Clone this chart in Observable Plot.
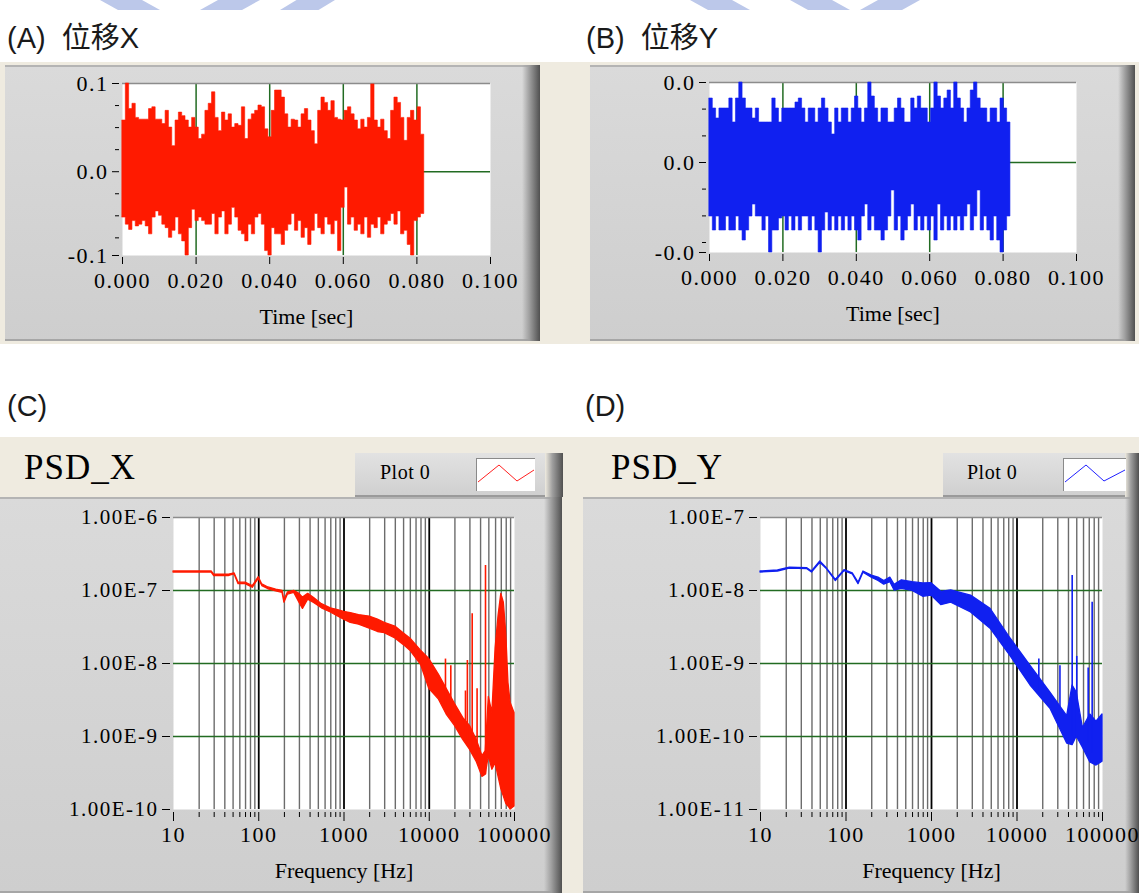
<!DOCTYPE html>
<html><head><meta charset="utf-8">
<script src="https://cdn.jsdelivr.net/npm/d3@7"></script>
<script src="https://cdn.jsdelivr.net/npm/@observablehq/plot@0.6"></script>
<style>
body{margin:0;background:#fff;}
#page{position:relative;width:1139px;height:893px;overflow:hidden;background:#fff;font-family:"Liberation Sans","Noto Sans CJK TC",sans-serif;}
.abs{position:absolute;}
.beige{background:#efebe0;}
.panel{background:linear-gradient(180deg,#dadada 0%,#cecece 100%);box-shadow:inset 0 2px 0 #b4b4b4,inset 0 -2px 0 #a6a6a6;}
.bevel{background:linear-gradient(90deg,rgba(160,160,160,0) 0%,#a0a0a0 40%,#505050 100%);}
.ttl{font-size:29px;color:#1a1a1a;white-space:pre;line-height:34px;}
.psdt{font-family:"Liberation Serif",serif;font-size:35px;color:#000;line-height:38px;letter-spacing:1px;}
.leg{background:linear-gradient(180deg,#e2e2e2,#cfcfcf);box-shadow:inset 0 -2px 0 #9a9a9a;}
.legt{font-family:"Liberation Serif",serif;font-size:20px;color:#000;line-height:22px;letter-spacing:0.5px;}
.sw{background:#fff;border-top:1px solid #8a8a8a;border-left:1px solid #8a8a8a;}
.deco{background:#bcc8ea;}
svg.plot{position:absolute;}
svg.plot g[aria-label$="tick label"]{letter-spacing:1.5px;}
</style>
</head><body>
<div id="page">
  <div class="abs deco" style="left:100px;top:0;width:60px;height:10px;clip-path:polygon(0 0,70% 0,100% 100%,30% 100%)"></div>
  <div class="abs deco" style="left:200px;top:0;width:60px;height:10px;clip-path:polygon(30% 0,100% 0,70% 100%,0 100%)"></div>
  <div class="abs deco" style="left:280px;top:0;width:55px;height:10px;clip-path:polygon(30% 0,100% 0,70% 100%,0 100%)"></div>
  <div class="abs deco" style="left:690px;top:0;width:60px;height:10px;clip-path:polygon(0 0,70% 0,100% 100%,30% 100%)"></div>
  <div class="abs deco" style="left:790px;top:0;width:60px;height:10px;clip-path:polygon(0 0,70% 0,100% 100%,30% 100%)"></div>
  <div class="abs deco" style="left:860px;top:0;width:60px;height:10px;clip-path:polygon(30% 0,100% 0,70% 100%,0 100%)"></div>

  <div class="abs ttl" style="left:7px;top:21px;">(A)  位移X</div>
  <div class="abs ttl" style="left:586px;top:21px;">(B)  位移Y</div>
  <div class="abs ttl" style="left:7px;top:389px;">(C)</div>
  <div class="abs ttl" style="left:585px;top:389px;">(D)</div>

  <div class="abs beige" style="left:0;top:62px;width:1139px;height:282px;"></div>
  <div class="abs panel" style="left:5px;top:65px;width:535px;height:276px;"></div>
  <div class="abs bevel" style="left:522px;top:65px;width:18px;height:276px;"></div>
  <div class="abs panel" style="left:590px;top:65px;width:545px;height:276px;"></div>
  <div class="abs bevel" style="left:1118px;top:65px;width:17px;height:276px;"></div>

  <div class="abs beige" style="left:0;top:437px;width:1139px;height:456px;"></div>
  <div class="abs panel" style="left:0;top:497px;width:562px;height:396px;"></div>
  <div class="abs bevel" style="left:544px;top:497px;width:18px;height:396px;"></div>
  <div class="abs panel" style="left:583px;top:497px;width:556px;height:396px;"></div>
  <div class="abs bevel" style="left:1125px;top:497px;width:14px;height:396px;"></div>

  <div class="abs psdt" style="left:24px;top:449px;">PSD_X</div>
  <div class="abs psdt" style="left:611px;top:449px;">PSD_Y</div>

  <div class="abs leg" style="left:355px;top:453px;width:190px;height:44px;"></div>
  <div class="abs bevel" style="left:545px;top:453px;width:18px;height:44px;"></div>
  <div class="abs legt" style="left:380px;top:461px;">Plot 0</div>
  <div class="abs sw" style="left:476px;top:458px;width:58px;height:32px;">
    <svg width="58" height="32"><polyline points="1,23 22,6 40,22 57,11" fill="none" stroke="#ff2020" stroke-width="1"/></svg>
  </div>

  <div class="abs leg" style="left:943px;top:453px;width:182px;height:44px;"></div>
  <div class="abs bevel" style="left:1125px;top:453px;width:14px;height:44px;"></div>
  <div class="abs legt" style="left:967px;top:461px;">Plot 0</div>
  <div class="abs sw" style="left:1063px;top:458px;width:62px;height:32px;">
    <svg width="62" height="32"><polyline points="1,23 22,6 40,22 61,11" fill="none" stroke="#2020ff" stroke-width="1"/></svg>
  </div>

  <div id="A"></div><div id="B"></div><div id="C"></div><div id="D"></div>
</div>
<script>
// ---------- data ----------
const timeEnd = 0.082;
const timeTicks = [0, 0.02, 0.04, 0.06, 0.08, 0.1];
const timeGrid = [0.02, 0.04, 0.06, 0.08];

const hiA = [0.058,0.100,0.071,0.077,0.061,0.059,0.059,0.059,0.071,0.073,
0.059,0.059,0.054,0.069,0.050,0.029,0.058,0.067,0.063,0.058,
0.050,0.061,0.050,0.037,0.042,0.069,0.077,0.090,0.061,0.046,
0.067,0.058,0.065,0.050,0.054,0.052,0.073,0.037,0.059,0.065,
0.069,0.075,0.073,0.048,0.039,0.069,0.092,0.092,0.084,0.065,
0.050,0.059,0.058,0.050,0.065,0.071,0.058,0.046,0.031,0.069,
0.084,0.078,0.069,0.080,0.061,0.059,0.058,0.069,0.073,0.065,
0.058,0.048,0.059,0.050,0.061,0.099,0.058,0.050,0.059,0.046,
0.037,0.069,0.084,0.078,0.061,0.035,0.061,0.069,0.058,0.073,0.042];
const loA = [-0.052,-0.060,-0.066,-0.056,-0.062,-0.060,-0.056,-0.062,-0.071,-0.052,
-0.045,-0.050,-0.060,-0.064,-0.075,-0.067,-0.052,-0.071,-0.079,-0.095,
-0.064,-0.043,-0.056,-0.052,-0.056,-0.060,-0.060,-0.048,-0.071,-0.052,
-0.045,-0.071,-0.060,-0.041,-0.052,-0.067,-0.071,-0.079,-0.060,-0.071,
-0.052,-0.048,-0.060,-0.090,-0.095,-0.064,-0.071,-0.071,-0.083,-0.067,
-0.060,-0.048,-0.067,-0.056,-0.075,-0.064,-0.083,-0.067,-0.048,-0.064,
-0.071,-0.052,-0.060,-0.071,-0.056,-0.090,-0.041,-0.018,-0.060,-0.052,
-0.067,-0.060,-0.071,-0.052,-0.075,-0.060,-0.064,-0.052,-0.071,-0.060,
-0.056,-0.048,-0.060,-0.045,-0.071,-0.067,-0.083,-0.095,-0.056,-0.052,-0.048];
const yTicksA = [-0.095, 0, 0.1];
const yLabelsA = ["-0.1", "0.0", "0.1"];
const yMinorA = [-0.075, -0.05, -0.025, 0.025, 0.05, 0.075];

const hiB = [0.032,0.027,0.022,0.027,0.027,0.027,0.032,0.020,0.032,0.040,
0.032,0.027,0.027,0.022,0.027,0.020,0.020,0.020,0.020,0.032,
0.027,0.020,0.027,0.027,0.027,0.027,0.030,0.032,0.027,0.020,
0.027,0.027,0.020,0.027,0.032,0.027,0.020,0.014,0.027,0.020,
0.027,0.027,0.020,0.027,0.033,0.027,0.020,0.027,0.040,0.033,
0.027,0.020,0.027,0.027,0.020,0.020,0.027,0.032,0.027,0.020,
0.020,0.032,0.027,0.033,0.027,0.027,0.020,0.027,0.040,0.033,
0.027,0.032,0.036,0.027,0.040,0.032,0.027,0.020,0.027,0.036,
0.040,0.032,0.027,0.027,0.020,0.027,0.027,0.020,0.032,0.027,0.020];
const loB = [-0.027,-0.034,-0.027,-0.034,-0.034,-0.027,-0.034,-0.034,-0.027,-0.034,
-0.039,-0.034,-0.027,-0.021,-0.027,-0.027,-0.034,-0.027,-0.045,-0.034,
-0.034,-0.028,-0.027,-0.034,-0.027,-0.034,-0.027,-0.034,-0.027,-0.027,
-0.034,-0.027,-0.034,-0.045,-0.034,-0.025,-0.034,-0.027,-0.034,-0.027,
-0.034,-0.027,-0.034,-0.027,-0.034,-0.039,-0.027,-0.021,-0.034,-0.027,
-0.034,-0.034,-0.039,-0.034,-0.027,-0.014,-0.034,-0.027,-0.039,-0.034,
-0.027,-0.021,-0.034,-0.027,-0.034,-0.027,-0.034,-0.027,-0.039,-0.021,
-0.034,-0.027,-0.034,-0.027,-0.034,-0.027,-0.034,-0.027,-0.021,-0.034,
-0.027,-0.014,-0.034,-0.027,-0.034,-0.039,-0.027,-0.039,-0.045,-0.034,-0.027];
const yTicksB = [-0.045, 0, 0.04];
const yLabelsB = ["-0.0", "0.0", "0.0"];
const yMinorB = [-0.04, -0.0267, -0.0133, 0.0133, 0.0267];

const freqC = [10,28,30,45,52,58,70,85,100,110,130,160,190,200,220,260,300,330,380,450,550,700,850,1000,1200,1500,2000,2500,3000,4000,5000,6000,8000,10000,13000,16000,20000,25000,30000,36000,42000,46000,50000,55000,60000,65000,70000,75000,80000,85000,90000,100000];
const loC = [1.76e-7,1.76e-7,1.58e-7,1.58e-7,1.66e-7,1.22e-7,1.22e-7,1.09e-7,1.44e-7,1.15e-7,1.04e-7,9.7e-8,9.3e-8,6.8e-8,8.8e-8,9.3e-8,6.8e-8,5.6e-8,7.5e-8,6.7e-8,5.7e-8,5.0e-8,4.4e-8,4.0e-8,3.6e-8,3.4e-8,3.0e-8,2.7e-8,2.6e-8,2.2e-8,1.8e-8,1.5e-8,9.6e-9,4.5e-9,3.2e-9,2.0e-9,1.4e-9,9.0e-10,6.6e-10,4.5e-10,2.8e-10,3.0e-10,5.4e-10,3.5e-10,4.3e-10,2.8e-10,1.9e-10,1.5e-10,1.2e-10,1.1e-10,1.0e-10,1.1e-10];
const hiC = [1.82e-7,1.82e-7,1.65e-7,1.65e-7,1.72e-7,1.28e-7,1.28e-7,1.15e-7,1.52e-7,1.21e-7,1.10e-7,1.03e-7,9.9e-8,7.4e-8,9.4e-8,9.9e-8,9.0e-8,8.0e-8,9.0e-8,7.8e-8,6.5e-8,5.7e-8,5.4e-8,5.1e-8,4.9e-8,4.6e-8,4.4e-8,4.0e-8,3.6e-8,3.2e-8,2.6e-8,2.2e-8,1.5e-8,1.15e-8,7.0e-9,4.5e-9,2.8e-9,1.8e-9,1.4e-9,9.0e-10,5.4e-10,6.3e-10,3.5e-9,2.1e-9,1.6e-8,4.5e-8,9.0e-8,6.8e-8,2.6e-8,5.4e-9,2.9e-9,2.1e-9];
const spikeFreqC = [15500,17900,26600,28000,31900,36400,45700];
const spikeTopC = [1.15e-8,9.3e-9,4.2e-9,1.1e-8,4.8e-8,4.5e-9,2.2e-7];
const spikeBaseC = [2.5e-9,1.8e-9,1.1e-9,9e-10,7e-10,5e-10,3e-10];
const yTicksC = [1e-10,1e-9,1e-8,1e-7,1e-6];
const yLabelsC = ["1.00E-10","1.00E-9","1.00E-8","1.00E-7","1.00E-6"];

const freqD = [10,16,22,35,40,50,60,76,96,120,140,160,200,240,280,330,370,450,600,800,1000,1300,1700,2900,4900,8400,14400,24600,38600,44700,50000,59000,72000,85000,100000];
const loD = [1.76e-8,1.82e-8,2.0e-8,1.97e-8,1.76e-8,2.4e-8,1.95e-8,1.35e-8,1.84e-8,1.66e-8,1.22e-8,1.75e-8,1.5e-8,1.35e-8,1.2e-8,1.3e-8,1.0e-8,1.05e-8,9.9e-9,8.2e-9,8.5e-9,6.3e-9,6.8e-9,5.0e-9,3.0e-9,1.26e-9,5.0e-10,2.4e-10,8.0e-11,7.6e-11,1.0e-10,7.0e-11,4.4e-11,4.0e-11,4.5e-11];
const hiD = [1.82e-8,1.88e-8,2.06e-8,2.03e-8,1.82e-8,2.5e-8,2.0e-8,1.4e-8,1.9e-8,1.72e-8,1.28e-8,1.82e-8,1.6e-8,1.5e-8,1.35e-8,1.5e-8,1.2e-8,1.38e-8,1.3e-8,1.25e-8,1.26e-8,9.6e-9,1.0e-8,8.5e-9,5.6e-9,2.2e-9,9.3e-10,4.0e-10,1.9e-10,5.0e-10,4.0e-10,1.3e-10,2.0e-10,1.6e-10,2.0e-10];
const spikeFreqD = [18000,31800,44200,50000,68000,75700];
const spikeTopD = [1.15e-9,9.3e-10,1.6e-8,1.25e-9,8.7e-10,6.9e-9];
const spikeBaseD = [4e-10,2.2e-10,1e-10,1e-10,8e-11,6e-11];
const yTicksD = [1e-11,1e-10,1e-9,1e-8,1e-7];
const yLabelsD = ["1.00E-11","1.00E-10","1.00E-9","1.00E-8","1.00E-7"];

const freqTicks = [10,100,1000,10000,100000];
const freqMinor = [20,30,40,50,60,70,80,90,200,300,400,500,600,700,800,900,2000,3000,4000,5000,6000,7000,8000,9000,20000,30000,40000,50000,60000,70000,80000,90000];

// ---------- drawing ----------
const GREEN = "#226b22";
const SERIF = "'Liberation Serif', 'Times New Roman', serif";

function timePlot({hi, lo, color, domain, ticks, labels, minor, width, height, ml, mr, mt, mb}) {
  const n = Math.min(hi.length, lo.length);
  const data = [];
  for (let i = 0; i < n; i++) data.push({t: i * timeEnd / n, hi: hi[i], lo: lo[i]});
  data.push({t: timeEnd, hi: hi[n - 1], lo: lo[n - 1]});
  const lab = new Map(ticks.map((d, i) => [d, labels[i]]));
  return Plot.plot({
    width, height, marginLeft: ml, marginRight: mr, marginTop: mt, marginBottom: mb,
    style: {background: "transparent", fontFamily: SERIF, fontSize: "22px", color: "#000", overflow: "visible"},
    x: {domain: [0, 0.1]},
    y: {domain},
    marks: [
      Plot.frame({fill: "white", stroke: null}),
      Plot.ruleX(timeGrid, {stroke: GREEN, strokeWidth: 1.5}),
      Plot.ruleY([0], {stroke: GREEN, strokeWidth: 1.5}),
      Plot.ruleY([domain[1]], {stroke: "#8c8c8c", strokeWidth: 1.5}),
      Plot.areaY(data, {x: "t", y1: "lo", y2: "hi", curve: "step-after", fill: color, stroke: color, strokeWidth: 0.6}),
      Plot.axisX(timeTicks, {tickFormat: d3.format(".3f"), tickSize: 7, tickPadding: 8, dy: 2, label: null, fontSize: 22}),
      Plot.axisY(ticks, {tickFormat: d => lab.get(d), tickSize: 7, tickPadding: 4, dx: -3, label: null, fontSize: 22}),
      Plot.axisY(minor, {tickFormat: () => "", tickSize: 4, dx: -3, label: null}),
      Plot.text(["Time [sec]"], {frameAnchor: "bottom", dy: 61, lineAnchor: "middle", fontSize: 22, fontFamily: SERIF})
    ]
  });
}

function psdPlot({freq, lo, hi, sf, st, sb, color, domain, ticks, labels, width, height, ml, mr, mt, mb}) {
  const data = freq.map((f, i) => ({f, lo: lo[i], hi: hi[i]}));
  const spikes = sf.map((f, i) => ({f, top: st[i], base: sb[i]}));
  const lab = new Map(ticks.map((d, i) => [d, labels[i]]));
  return Plot.plot({
    width, height, marginLeft: ml, marginRight: mr, marginTop: mt, marginBottom: mb,
    style: {background: "transparent", fontFamily: SERIF, fontSize: "22px", color: "#000", overflow: "visible"},
    x: {type: "log", domain: [10, 100000]},
    y: {type: "log", domain},
    marks: [
      Plot.frame({fill: "white", stroke: null}),
      Plot.ruleX(freqMinor, {stroke: "#6c6c6c", strokeWidth: 1.4}),
      Plot.ruleX([100, 1000, 10000], {stroke: "#000", strokeWidth: 1.8}),
      Plot.ruleY(ticks.slice(1, -1), {stroke: GREEN, strokeWidth: 1.7}),
      Plot.ruleY([domain[1]], {stroke: "#8c8c8c", strokeWidth: 1.5}),
      Plot.areaY(data, {x: "f", y1: "lo", y2: "hi", fill: color, stroke: color, strokeWidth: 1.3}),
      Plot.ruleX(spikes, {x: "f", y1: "base", y2: "top", stroke: color, strokeWidth: 1.6}),
      Plot.axisX(freqTicks, {tickFormat: d => String(d), tickSize: 9, tickPadding: 5, dy: 3, label: null, fontSize: 22}),
      Plot.axisX(freqMinor, {tickFormat: () => "", tickSize: 5, dy: 3, label: null}),
      Plot.axisY(ticks, {tickFormat: d => lab.get(d), tickSize: 8, tickPadding: 4, dx: -3, label: null, fontSize: 21}),
      Plot.text(["Frequency [Hz]"], {frameAnchor: "bottom", dy: 61, lineAnchor: "middle", fontSize: 22, fontFamily: SERIF})
    ]
  });
}

function place(el, id, left, top) {
  el.setAttribute("class", (el.getAttribute("class") || "") + " plot");
  el.style.position = "absolute";
  el.style.left = left + "px";
  el.style.top = top + "px";
  document.getElementById(id).appendChild(el);
}

place(timePlot({hi: hiA, lo: loA, color: "#ff1a00", domain: [-0.095, 0.1], ticks: yTicksA, labels: yLabelsA, minor: yMinorA,
  width: 540, height: 282, ml: 122, mr: 50, mt: 21, mb: 89}), "A", 0, 62);
place(timePlot({hi: hiB, lo: loB, color: "#1020f0", domain: [-0.045, 0.04], ticks: yTicksB, labels: yLabelsB, minor: yMinorB,
  width: 557, height: 282, ml: 127, mr: 63, mt: 20, mb: 92}), "B", 582, 62);
place(psdPlot({freq: freqC, lo: loC, hi: hiC, sf: spikeFreqC, st: spikeTopC, sb: spikeBaseC, color: "#ff1a00",
  domain: [1e-10, 1e-6], ticks: yTicksC, labels: yLabelsC, width: 563, height: 396, ml: 173, mr: 49, mt: 20, mb: 84}), "C", 0, 497);
place(psdPlot({freq: freqD, lo: loD, hi: hiD, sf: spikeFreqD, st: spikeTopD, sb: spikeBaseD, color: "#1020f0",
  domain: [1e-11, 1e-7], ticks: yTicksD, labels: yLabelsD, width: 557, height: 396, ml: 178, mr: 37, mt: 20, mb: 84}), "D", 582, 497);
</script>
</body></html>
